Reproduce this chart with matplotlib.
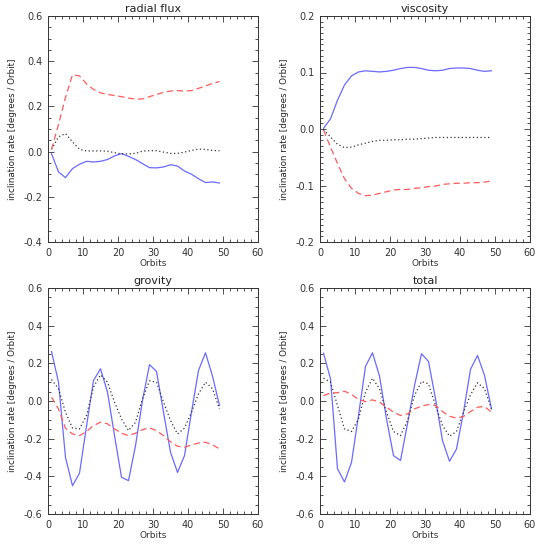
import matplotlib
matplotlib.use('Agg')
import matplotlib.pyplot as plt
from matplotlib.ticker import MultipleLocator

# orbits sampled every 2
orbits = list(range(1, 50, 2))

# radial flux
rf_blue = [-0.009, -0.09, -0.115, -0.075, -0.056, -0.043, -0.046, -0.043, -0.035, -0.019,
           -0.009, -0.021, -0.035, -0.053, -0.071, -0.072, -0.068, -0.058, -0.064, -0.086,
           -0.100, -0.120, -0.137, -0.134, -0.139]
rf_black = [0.010, 0.065, 0.080, 0.043, 0.010, 0.003, 0.003, 0.003, 0.002, -0.005,
            -0.010, -0.010, -0.008, 0.002, 0.004, 0.004, -0.002, -0.008, -0.008, -0.002,
            0.005, 0.011, 0.010, 0.005, 0.004]
rf_red = [0.010, 0.120, 0.240, 0.340, 0.335, 0.300, 0.275, 0.260, 0.253, 0.248,
          0.243, 0.237, 0.232, 0.233, 0.243, 0.253, 0.262, 0.268, 0.270, 0.268,
          0.270, 0.280, 0.290, 0.302, 0.310]

# viscosity
vi_blue = [0.001, 0.018, 0.051, 0.078, 0.094, 0.101, 0.103, 0.102, 0.101, 0.102,
           0.104, 0.107, 0.109, 0.109, 0.107, 0.104, 0.103, 0.104, 0.107, 0.108,
           0.108, 0.107, 0.104, 0.102, 0.103]
vi_black = [-0.001, -0.014, -0.027, -0.033, -0.032, -0.028, -0.025, -0.022, -0.020, -0.020,
            -0.019, -0.019, -0.018, -0.018, -0.017, -0.016, -0.015, -0.015, -0.015, -0.015,
            -0.015, -0.015, -0.015, -0.015, -0.015]
vi_red = [-0.002, -0.032, -0.061, -0.088, -0.105, -0.114, -0.118, -0.117, -0.114, -0.111,
          -0.108, -0.107, -0.107, -0.105, -0.104, -0.102, -0.101, -0.098, -0.097, -0.096,
          -0.096, -0.095, -0.095, -0.094, -0.092]

# gravity
gr_blue = [0.263, 0.100, -0.300, -0.450, -0.383, -0.134, 0.109, 0.171, 0.047, -0.183,
           -0.405, -0.423, -0.237, 0.003, 0.193, 0.157, -0.059, -0.272, -0.379, -0.290,
           -0.059, 0.162, 0.256, 0.132, -0.024]
gr_black = [0.114, 0.065, -0.060, -0.144, -0.148, -0.077, 0.074, 0.139, 0.100, -0.006,
            -0.095, -0.157, -0.113, 0.012, 0.107, 0.100, -0.006, -0.104, -0.175, -0.144,
            -0.059, 0.038, 0.100, 0.065, -0.042]
gr_red = [0.020, -0.042, -0.145, -0.175, -0.184, -0.162, -0.130, -0.113, -0.121, -0.148,
          -0.171, -0.184, -0.171, -0.152, -0.143, -0.157, -0.184, -0.216, -0.240, -0.246,
          -0.233, -0.223, -0.219, -0.233, -0.254]

# total
to_blue = [0.254, 0.118, -0.360, -0.430, -0.326, -0.077, 0.184, 0.256, 0.132, -0.095,
           -0.290, -0.316, -0.121, 0.082, 0.251, 0.210, 0.012, -0.210, -0.320, -0.255,
           -0.059, 0.168, 0.242, 0.136, -0.042]
to_black = [0.121, 0.100, -0.024, -0.148, -0.162, -0.095, 0.047, 0.121, 0.065, -0.059,
            -0.162, -0.184, -0.104, 0.029, 0.104, 0.091, -0.024, -0.130, -0.187, -0.162,
            -0.059, 0.033, 0.097, 0.065, -0.042]
to_red = [0.029, 0.042, 0.044, 0.052, 0.035, 0.008, -0.003, 0.006, -0.006, -0.033,
          -0.059, -0.077, -0.068, -0.042, -0.027, -0.019, -0.024, -0.056, -0.081, -0.091,
          -0.082, -0.056, -0.033, -0.029, -0.059]

titles = ['radial flux', 'viscosity', 'grovity', 'total']
series = [(rf_blue, rf_black, rf_red), (vi_blue, vi_black, vi_red),
          (gr_blue, gr_black, gr_red), (to_blue, to_black, to_red)]
ylims = [(-0.4, 0.6), (-0.2, 0.2), (-0.6, 0.6), (-0.6, 0.6)]
ysteps = [(0.2, 0.05), (0.1, 0.01), (0.2, 0.05), (0.2, 0.05)]

fig = plt.figure(figsize=(5.45, 5.45), dpi=100)
W = 545.0
boxes = [(48, 16), (320, 16), (48, 288), (320, 288)]

for i in range(4):
    x0, y0 = boxes[i]
    ax = fig.add_axes([x0 / W, 1 - (y0 + 226) / W, 210 / W, 226 / W])
    blue, black, red = series[i]
    ax.plot(orbits, blue, color='#6a6aff', lw=0.9)
    ax.plot(orbits, black, color='#333333', lw=0.9, ls=(0, (1, 2)))
    ax.plot(orbits, red, color='#ff5a5a', lw=0.9, ls=(0, (5, 3)))
    ax.set_xlim(0, 60)
    ax.set_ylim(*ylims[i])
    ax.xaxis.set_major_locator(MultipleLocator(10))
    ax.xaxis.set_minor_locator(MultipleLocator(2))
    ax.yaxis.set_major_locator(MultipleLocator(ysteps[i][0]))
    ax.yaxis.set_minor_locator(MultipleLocator(ysteps[i][1]))
    ax.yaxis.set_major_formatter(plt.FormatStrFormatter('%.1f'))
    ax.tick_params(which='both', direction='in', top=True, right=True,
                   labelsize=7, colors='#333333', width=0.6, pad=4)
    ax.tick_params(which='major', length=4)
    ax.tick_params(which='minor', length=2)
    for s in ax.spines.values():
        s.set_linewidth(0.7)
        s.set_color('#333333')
    ax.set_title(titles[i], fontsize=8, pad=3, color='#222222')
    ax.set_xlabel('Orbits', fontsize=6.5, labelpad=1, color='#333333')
    ax.set_ylabel('inclination rate [degrees / Orbit]', fontsize=6.3, labelpad=5, color='#222222')

plt.savefig('out.png', dpi=100)
